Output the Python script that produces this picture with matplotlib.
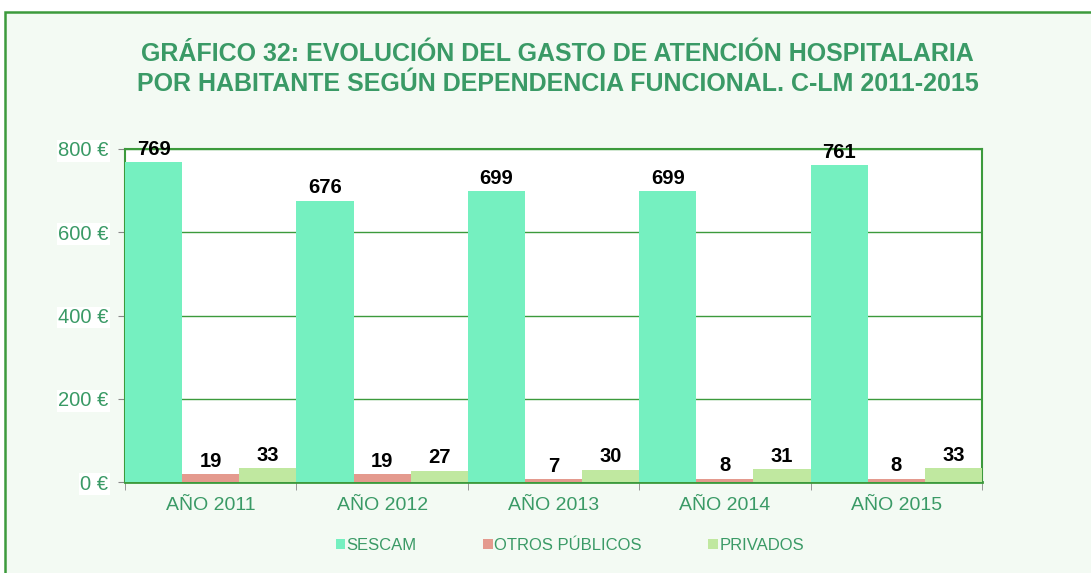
import numpy as np
import matplotlib
matplotlib.use("Agg")
from matplotlib import pyplot as plt
from matplotlib.patches import Rectangle

# Data
years = ["AÑO 2011", "AÑO 2012", "AÑO 2013", "AÑO 2014", "AÑO 2015"]
sescam = [769, 676, 699, 699, 761]
otros = [19, 19, 7, 8, 8]
privados = [33, 27, 30, 31, 33]
series_names = ["SESCAM", "OTROS PÚBLICOS", "PRIVADOS"]
y_ticks = [0, 200, 400, 600, 800]

colors = ["#75F0C0", "#E49A8E", "#C0E8A0"]
green = "#3C9A3C"
text_green = "#3A9A66"

plt.rcParams['font.family'] = ['Liberation Sans', 'DejaVu Sans']

fig = plt.figure(figsize=(10.91, 5.73), dpi=100)
fig.patch.set_facecolor("white")

# outer frame of the chart
frame = Rectangle((5 / 1091, -0.05), 1.2, 1 - 12 / 573 + 0.05, transform=fig.transFigure,
                  facecolor="#F3FAF3", edgecolor=green, linewidth=1.8, zorder=-10)
fig.patches.append(frame)

ax = fig.add_axes([125 / 1091, 1 - 482 / 573, (982 - 125) / 1091, (482 - 149) / 573])
ax.set_facecolor("white")

x = np.arange(len(years))
w = 1 / 3
for i, (vals, name, c) in enumerate(zip([sescam, otros, privados], series_names, colors)):
    pos = x - w + i * w
    bars = ax.bar(pos, vals, width=w, color=c, label=name, zorder=3)
    for xp, v in zip(pos, vals):
        ax.text(xp, v + 8, str(v), ha="center", va="bottom", fontsize=14.5,
                fontweight="bold", color="black", zorder=4)

ax.set_xlim(-0.5, len(years) - 0.5)
ax.set_ylim(0, 800)
ax.set_yticks(y_ticks)
ax.set_yticklabels([f"{t} €" for t in y_ticks], color=text_green, fontsize=14.5)
for lbl in ax.get_yticklabels():
    lbl.set_bbox(dict(facecolor="white", edgecolor="none", pad=1))
ax.yaxis.grid(True, color=green, linewidth=1, zorder=1)
ax.tick_params(axis="y", length=5, color="#888888", pad=7)

ax.set_xticks(x)
ax.set_xticklabels(years, color=text_green, fontsize=14)
ax.set_xticks(np.arange(len(years) + 1) - 0.5, minor=True)
ax.tick_params(axis="x", which="major", length=0, pad=11)
ax.tick_params(axis="x", which="minor", length=6, color="#888888")

for s in ["top", "right", "left"]:
    ax.spines[s].set_color(green)
    ax.spines[s].set_linewidth(1.5)
ax.spines["bottom"].set_color(green)
ax.spines["bottom"].set_linewidth(2)

fig.text(0.511, 1 - 54 / 573, "GRÁFICO 32: EVOLUCIÓN DEL GASTO DE ATENCIÓN HOSPITALARIA",
         ha="center", va="center", fontsize=18, fontweight="bold", color=text_green)
fig.text(0.511, 1 - 84 / 573, "POR HABITANTE SEGÚN DEPENDENCIA FUNCIONAL. C-LM 2011-2015",
         ha="center", va="center", fontsize=18, fontweight="bold", color=text_green)

leg = ax.legend(loc="center", bbox_to_anchor=(0.519, 1 - (545 - 149) / 333),
                ncol=3, frameon=False, fontsize=12, handlelength=0.55, handleheight=0.55,
                handletextpad=0.1, columnspacing=4.0)
for t in leg.get_texts():
    t.set_color(text_green)

fig.savefig("out.png", dpi=100)
